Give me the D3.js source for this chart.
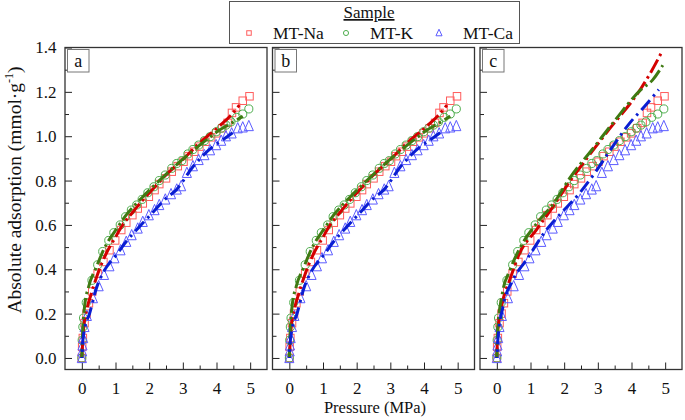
<!DOCTYPE html>
<html>
<head>
<meta charset="utf-8">
<script src="https://cdn.jsdelivr.net/npm/d3@7"></script>
<style>
  body { margin: 0; background: #fff; }
  svg text { font-family: "Liberation Serif", "Times New Roman", serif; fill: #111; }
</style>
</head>
<body>
<div id="chart"></div>
<script>
// measured points (same in all three panels)
const naP = [0, 0.01, 0.03, 0.08, 0.14, 0.21, 0.31, 0.47, 0.64, 0.82, 0.99, 1.17, 1.32, 1.5, 1.66, 1.81, 1.99, 2.16, 2.3, 2.5, 2.67, 2.85, 3.02, 3.17, 3.34, 3.49, 3.67, 3.84, 3.99, 4.17, 4.33, 4.46, 4.58, 4.78, 4.98];
const naA = [0, 0.05, 0.09, 0.157, 0.2, 0.247, 0.30, 0.38, 0.433, 0.486, 0.53, 0.577, 0.61, 0.644, 0.674, 0.697, 0.727, 0.757, 0.784, 0.81, 0.84, 0.865, 0.885, 0.91, 0.93, 0.953, 0.975, 0.995, 1.013, 1.036, 1.06, 1.105, 1.13, 1.16, 1.18];
const kP = [0, 0.01, 0.03, 0.05, 0.13, 0.3, 0.47, 0.62, 0.8, 0.95, 1.14, 1.3, 1.47, 1.63, 1.79, 1.96, 2.14, 2.3, 2.48, 2.67, 2.82, 2.97, 3.15, 3.3, 3.47, 3.64, 3.81, 3.99, 4.14, 4.28, 4.43, 4.6, 4.78, 4.96];
const kA = [0, 0.08, 0.14, 0.18, 0.25, 0.35, 0.42, 0.48, 0.53, 0.565, 0.60, 0.637, 0.667, 0.69, 0.715, 0.745, 0.772, 0.80, 0.825, 0.855, 0.877, 0.89, 0.92, 0.94, 0.96, 0.98, 0.998, 1.02, 1.036, 1.05, 1.065, 1.085, 1.10, 1.123];
const caP = [0, 0.01, 0.02, 0.04, 0.08, 0.15, 0.33, 0.5, 0.66, 0.82, 0.97, 1.15, 1.32, 1.48, 1.66, 1.81, 1.99, 2.16, 2.3, 2.48, 2.65, 2.82, 2.95, 3.12, 3.3, 3.47, 3.64, 3.81, 3.99, 4.14, 4.28, 4.45, 4.63, 4.78, 4.96];
const caA = [0, 0.03, 0.057, 0.09, 0.14, 0.19, 0.27, 0.324, 0.375, 0.414, 0.45, 0.486, 0.524, 0.554, 0.584, 0.614, 0.644, 0.667, 0.69, 0.715, 0.739, 0.76, 0.775, 0.835, 0.865, 0.893, 0.915, 0.937, 0.96, 0.98, 1.0, 1.013, 1.036, 1.04, 1.046];

// fitted curves, panels a and b
const fitNaP_ab = [0, 0.05, 0.15, 0.28, 0.45, 0.72, 1.0, 1.17, 1.5, 1.81, 2.1, 2.5, 3.0, 3.49, 4.09, 4.4, 4.68];
const fitNaA_ab = [0, 0.13, 0.22, 0.29, 0.37, 0.47, 0.545, 0.59, 0.655, 0.712, 0.76, 0.825, 0.895, 0.968, 1.046, 1.09, 1.14];
const fitKP_ab = [0, 0.02, 0.08, 0.2, 0.43, 0.72, 1.0, 1.32, 1.8, 2.3, 2.8, 3.3, 3.8, 4.09, 4.4, 4.78];
const fitKA_ab = [0, 0.1, 0.23, 0.32, 0.41, 0.51, 0.575, 0.645, 0.725, 0.80, 0.87, 0.935, 0.995, 1.028, 1.055, 1.09];
const fitCaP_ab = [0, 0.02, 0.08, 0.23, 0.43, 0.67, 1.0, 1.32, 1.7, 2.1, 2.5, 2.8, 3.3, 3.89, 4.2, 4.48];
const fitCaA_ab = [0, 0.06, 0.13, 0.20, 0.313, 0.395, 0.46, 0.525, 0.59, 0.655, 0.72, 0.757, 0.862, 0.953, 0.985, 1.016];

// fitted curves, panel c
const fitNaP_c = [0, 0.03, 0.18, 0.38, 0.67, 1.17, 1.66, 2.16, 2.65, 2.95, 3.49, 3.74, 4.28, 4.58, 4.88];
const fitNaA_c = [0, 0.125, 0.26, 0.35, 0.47, 0.577, 0.68, 0.795, 0.895, 0.955, 1.06, 1.105, 1.215, 1.29, 1.374];
const fitKP_c = [0, 0.02, 0.15, 0.4, 0.7, 1.2, 1.7, 2.16, 2.9, 3.5, 4.28, 4.63, 4.93];
const fitKA_c = [0, 0.12, 0.28, 0.40, 0.50, 0.61, 0.70, 0.81, 0.953, 1.07, 1.21, 1.254, 1.32];
const fitCaP_c = [0, 0.03, 0.18, 0.47, 0.87, 1.47, 1.81, 2.45, 2.9, 3.44, 3.94, 4.38, 4.81];
const fitCaA_c = [0, 0.08, 0.23, 0.35, 0.44, 0.577, 0.637, 0.742, 0.832, 0.953, 1.058, 1.133, 1.21];

const panelLabels = ["a", "b", "c"];
const sampleNames = ["MT-Na", "MT-K", "MT-Ca"];
const xTicks = [0, 1, 2, 3, 4, 5];
const yTicks = [0, 0.2, 0.4, 0.6, 0.8, 1.0, 1.2, 1.4];

const width = 685, height = 420;
const plotTop = 47.5, plotBottom = 369.5, panelW = 202;
const lefts = [65, 272.5, 480];
const serif = '"Liberation Serif", "Times New Roman", serif';

const markColor = ["#ff5c5c", "#4fae4f", "#5c5cff"];
const lineColor = ["#d40000", "#3f7a12", "#0a1ed2"];
const shapes = ["square", "circle", "triangle"];

const zip = (p, a) => p.map((v, i) => [v, a[i]]);
const measured = [zip(naP, naA), zip(kP, kA), zip(caP, caA)];
const fitsAB = [zip(fitNaP_ab, fitNaA_ab), zip(fitKP_ab, fitKA_ab), zip(fitCaP_ab, fitCaA_ab)];
const fitsC = [zip(fitNaP_c, fitNaA_c), zip(fitKP_c, fitKA_c), zip(fitCaP_c, fitCaA_c)];
const panelFits = [fitsAB, fitsAB, fitsC];

let svg = d3.select("#chart")
    .append("svg")
    .attr("width", width)
    .attr("height", height)
    .attr("font-family", serif);

let y = d3.scaleLinear()
    .domain([-0.052, 1.4])
    .range([plotBottom, plotTop]);

function marker(sel, shape, color, s) {
    if (shape === "square") {
        sel.append("rect").attr("x", -s / 2).attr("y", -s / 2).attr("width", s).attr("height", s);
    } else if (shape === "circle") {
        sel.append("circle").attr("r", s / 2 + 0.3);
    } else {
        let h = s * 0.62;
        sel.append("path").attr("d", `M0,${-h - 1}L${s / 2 + 0.8},${h}L${-s / 2 - 0.8},${h}Z`);
    }
    sel.selectAll("*").attr("fill", "none").attr("stroke", color).attr("stroke-width", 1);
}

panelLabels.forEach((lab, pi) => {
    let x = d3.scaleLinear()
        .domain([-0.5, 5.5])
        .range([lefts[pi], lefts[pi] + panelW]);

    let g = svg.append("g");

    // ticks point inwards
    g.append("g")
        .attr("transform", `translate(0,${plotBottom})`)
        .call(d3.axisBottom(x).tickValues(d3.range(0.5, 5.5, 1)).tickSize(-4).tickFormat(""))
        .call(a => a.select(".domain").remove());
    g.append("g")
        .attr("transform", `translate(0,${plotBottom})`)
        .call(d3.axisBottom(x).tickValues(xTicks).tickSize(-7).tickPadding(12).tickFormat(d3.format("d")))
        .attr("font-family", serif)
        .call(a => a.select(".domain").remove())
        .call(a => a.selectAll("text").style("font-size", "17px"));

    g.append("g")
        .attr("transform", `translate(${lefts[pi]},0)`)
        .call(d3.axisLeft(y).tickValues(d3.range(0.1, 1.4, 0.2)).tickSize(-4).tickFormat(""))
        .call(a => a.select(".domain").remove());
    g.append("g")
        .attr("transform", `translate(${lefts[pi]},0)`)
        .call(d3.axisLeft(y).tickValues(yTicks).tickSize(-7).tickPadding(8.5)
            .tickFormat(pi === 0 ? d3.format(".1f") : ""))
        .attr("font-family", serif)
        .call(a => a.select(".domain").remove())
        .call(a => a.selectAll("text").style("font-size", "17px"));

    g.selectAll(".tick line").attr("stroke", "#222");

    // measured markers
    measured.forEach((pts, si) => {
        g.append("g").selectAll("g")
            .data(pts)
            .join("g")
            .attr("transform", d => `translate(${x(d[0])},${y(d[1])})`)
            .each(function() { marker(d3.select(this), shapes[si], markColor[si], 7.5); });
    });

    // fitted curves
    let line = d3.line().curve(d3.curveMonotoneX).x(d => x(d[0])).y(d => y(d[1]));
    panelFits[pi].forEach((pts, si) => {
        g.append("path")
            .datum(pts)
            .attr("d", line)
            .attr("fill", "none")
            .attr("stroke", lineColor[si])
            .attr("stroke-width", 3)
            .attr("stroke-dasharray", si === 2 ? "13,5,2.5,5" : "15,4,2.5,4")
            .attr("stroke-dashoffset", si * 6);
    });

    // frame
    g.append("rect")
        .attr("x", lefts[pi]).attr("y", plotTop)
        .attr("width", panelW).attr("height", plotBottom - plotTop)
        .attr("fill", "none").attr("stroke", "#333").attr("stroke-width", 1.3);

    // panel letter box
    g.append("rect")
        .attr("x", lefts[pi] + 2.5).attr("y", plotTop + 2)
        .attr("width", 21.5).attr("height", 22.5)
        .attr("fill", "#fff").attr("stroke", "#777").attr("stroke-width", 1);
    g.append("text")
        .attr("x", lefts[pi] + 13.2).attr("y", plotTop + 19)
        .attr("text-anchor", "middle")
        .style("font-size", "18px")
        .text(lab);
});

// axis titles
svg.append("text")
    .attr("x", 375)
    .attr("y", 413)
    .attr("text-anchor", "middle")
    .style("font-size", "16.5px")
    .text("Pressure (MPa)");

let yt = svg.append("text")
    .attr("transform", "translate(21,190) rotate(-90)")
    .attr("text-anchor", "middle")
    .style("font-size", "19.5px");
yt.append("tspan").text("Absolute adsorption (mmol\u00b7g");
yt.append("tspan").attr("dy", -8).style("font-size", "12px").text("-1");
yt.append("tspan").attr("dy", 8).text(")");

// legend
let lg = svg.append("g");
lg.append("rect")
    .attr("x", 229.5).attr("y", 1.5)
    .attr("width", 290).attr("height", 42)
    .attr("fill", "#fff").attr("stroke", "#555").attr("stroke-width", 1);
lg.append("text")
    .attr("x", 369).attr("y", 18)
    .attr("text-anchor", "middle")
    .style("font-size", "17px")
    .style("text-decoration", "underline")
    .text("Sample");
const legMarkX = [249, 346, 439], legTextX = [273, 370, 463];
sampleNames.forEach((name, i) => {
    let m = lg.append("g").attr("transform", `translate(${legMarkX[i]},33)`);
    marker(m, shapes[i], markColor[i], 4.5);
    lg.append("text")
        .attr("x", legTextX[i]).attr("y", 39)
        .style("font-size", "17.5px")
        .text(name);
});
</script>
</body>
</html>
